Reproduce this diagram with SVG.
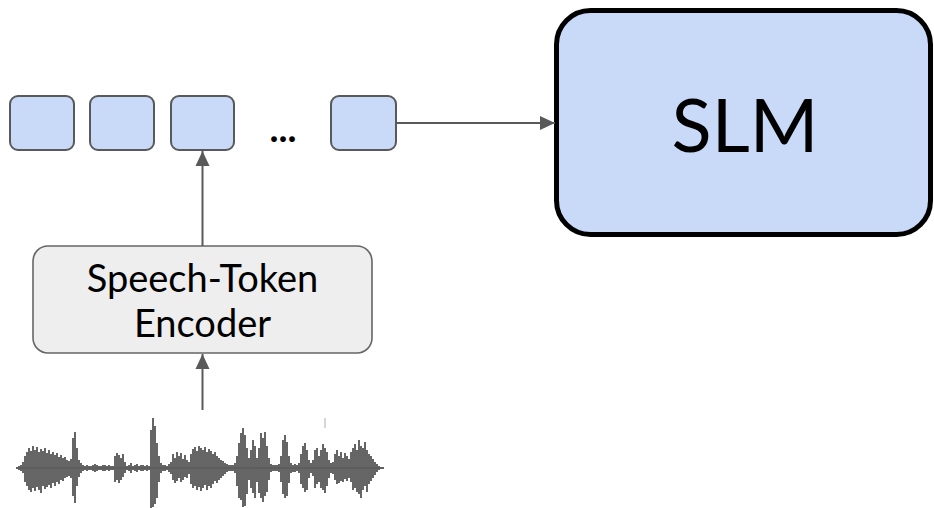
<svg xmlns="http://www.w3.org/2000/svg" width="934" height="508" viewBox="0 0 934 508">
  <style>
    .token { fill: #c9daf8; stroke: #595959; stroke-width: 2; }
    .enc { fill: #eeeeee; stroke: #666666; stroke-width: 1.6; }
    .slm { fill: #c9daf8; stroke: #000000; stroke-width: 5; }
    .lbl { font-family: Lato, "Liberation Sans", sans-serif; fill: #000000; text-anchor: middle; }
    .conn { stroke: #595959; stroke-width: 2; fill: none; }
    .wave { stroke: #555555; stroke-width: 1.8; fill: none; }
  </style>
  <defs>
    <marker id="arrow" markerUnits="userSpaceOnUse" markerWidth="16" markerHeight="16" viewBox="0 0 16 16" refX="15" refY="8" orient="auto">
      <path d="M0 1 L15 8 L0 15 Z" fill="#595959"/>
    </marker>
  </defs>

  <!-- speech tokens -->
  <g id="token-1"><rect class="token" x="10" y="96" width="64" height="54" rx="8"/></g>
  <g id="token-2"><rect class="token" x="90" y="96" width="64" height="54" rx="8"/></g>
  <g id="token-3"><rect class="token" x="171" y="96" width="63" height="54" rx="8"/></g>
  <g id="ellipsis"><text class="lbl" x="283" y="142" font-size="38" font-weight="bold">...</text></g>
  <g id="token-n"><rect class="token" x="331" y="96" width="65" height="54" rx="8"/></g>

  <!-- language model -->
  <g id="slm">
    <rect class="slm" x="556.5" y="10.5" width="374" height="224" rx="34"/>
    <text class="lbl" x="745" y="152" font-size="74">SLM</text>
  </g>

  <!-- encoder -->
  <g id="encoder">
    <rect class="enc" x="33" y="246" width="339" height="107" rx="15"/>
    <text class="lbl" x="202.5" y="292" font-size="38">Speech-Token</text>
    <text class="lbl" x="202.5" y="337" font-size="38">Encoder</text>
  </g>

  <!-- audio waveform -->
  <g id="waveform">
    <path d="M17 468H383" stroke="#555555" stroke-width="1.2"/>
    <path d="M325 418V428" stroke="#c8c8c8" stroke-width="1.5"/>
    <path class="wave" d="
      M17 467V469 M19 466V470 M21 465V471 M23 462V473
      M25 456V482 M27 452V486 M29 448V490 M31 451V492 M33 446V488 M35 450V491 M37 447V487 M39 452V490
      M41 449V493 M43 451V486 M45 448V489 M47 453V487 M49 450V485 M51 454V488 M53 452V483 M55 455V486
      M57 453V482 M59 457V484 M61 455V480 M63 458V481 M65 457V478 M67 460V477 M69 461V476 M71 459V478
      M73 438V496 M75 432V503 M77 448V486 M79 460V477 M81 463V473 M83 465V471
      M85 466V470 M87 465V471 M89 466V470 M91 466V470 M93 465V471 M95 464V472 M97 465V471 M99 466V470
      M101 466V470 M103 465V471 M105 465V471 M107 466V470 M109 465V471 M111 466V470 M113 466V470
      M115 456V482 M117 453V480 M119 455V483 M121 458V480 M123 454V477 M125 462V473
      M127 466V470 M129 465V471 M131 463V473 M133 466V470 M135 465V471 M137 464V472 M139 466V470
      M141 465V471 M143 465V471 M145 466V470 M147 465V471 M149 466V470
      M151 430V508 M153 418V507 M155 426V504 M157 443V498 M159 456V482
      M161 463V473 M163 465V471 M165 465V471 M167 466V470 M169 464V472 M171 462V474
      M173 454V480 M175 458V483 M177 452V481 M179 456V478 M181 453V482 M183 459V480 M185 455V477 M187 460V478 M189 462V474
      M191 454V484 M193 449V488 M195 447V486 M197 451V490 M199 446V487 M201 448V491 M203 450V488 M205 447V485
      M207 452V490 M209 449V486 M211 451V488 M213 454V484 M215 452V481 M217 456V483 M219 458V480 M221 460V478
      M223 461V476 M225 463V474 M227 464V472 M229 465V471 M231 465V471 M233 465V471 M235 463V473
      M237 456V486 M239 443V498 M241 433V500 M243 428V507 M245 435V506 M247 448V494 M249 458V480
      M251 450V488 M253 440V493 M255 446V498 M257 458V482
      M259 448V493 M261 433V498 M263 438V502 M265 432V496 M267 446V492 M269 458V480
      M271 464V472 M273 465V471 M275 465V471 M277 465V471 M279 464V472
      M281 456V482 M283 440V494 M285 435V498 M287 442V496 M289 456V483
      M291 463V473 M293 465V472 M295 464V472 M297 465V471 M299 463V473
      M301 454V484 M303 446V488 M305 443V492 M307 450V490 M309 460V478
      M311 463V473 M313 460V476 M315 450V488 M317 448V484 M319 456V482
      M321 450V488 M323 444V490 M325 448V493 M327 452V486 M329 460V478 M331 463V473 M333 462V474
      M335 454V480 M337 450V484 M339 456V483 M341 452V481 M343 458V482 M345 453V479 M347 456V481 M349 459V478
      M351 452V482 M353 448V490 M355 444V488 M357 450V492 M359 440V494 M361 446V498 M363 448V490
      M365 442V486 M367 450V492 M369 454V484 M371 456V481 M373 459V478 M375 462V475 M377 464V472
      M379 466V470 M381 467V469 M383 467V469"/>
  </g>

  <!-- connectors -->
  <g id="connectors">
    <path class="conn" d="M396 123H555" marker-end="url(#arrow)"/>
    <path class="conn" d="M202.5 246V151" marker-end="url(#arrow)"/>
    <path class="conn" d="M202.5 410V354" marker-end="url(#arrow)"/>
  </g>
</svg>
